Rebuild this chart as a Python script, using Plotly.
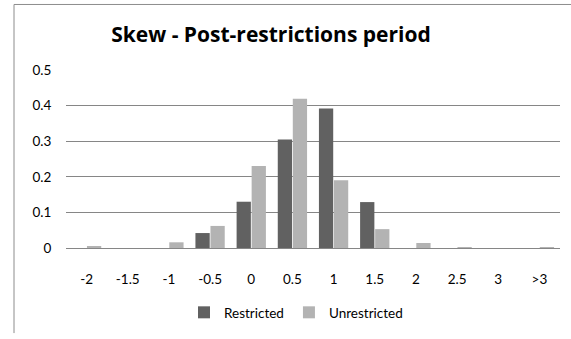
import plotly.graph_objects as go

categories = ["-2", "-1.5", "-1", "-0.5", "0", "0.5", "1", "1.5", "2", "2.5", "3", ">3"]
restricted = [0, 0, 0, 0.042, 0.13, 0.305, 0.392, 0.129, 0, 0, 0, 0]
unrestricted = [0.004, 0, 0.016, 0.062, 0.23, 0.419, 0.19, 0.053, 0.014, 0.001, 0, 0.001]

FONT = "Lato, Carlito, 'Liberation Sans', sans-serif"
TFONT = "'Open Sans', Lato, sans-serif"

fig = go.Figure()
fig.add_trace(go.Bar(x=categories, y=restricted, name="Restricted",
                     marker=dict(color="#616161", line=dict(width=0))))
fig.add_trace(go.Bar(x=categories, y=unrestricted, name="Unrestricted",
                     marker=dict(color="#b3b3b3", line=dict(width=0))))

W, H = 571, 339
ml, mr, mt, mb = 66, 11, 70, 87
pw, ph = W - ml - mr, H - mt - mb

def px(x):
    return (x - ml) / pw

def py(y):
    return (H - mb - y) / ph

fig.update_layout(
    width=W, height=H,
    margin=dict(l=ml, r=mr, t=mt, b=mb, pad=0),
    paper_bgcolor="white", plot_bgcolor="white",
    font=dict(family=FONT, size=13.5, color="#000000"),
    title=dict(text="<b>Skew - Post-restrictions period</b>", xref="container", x=271 / W,
               xanchor="center", yref="container", y=1 - 35 / H, yanchor="middle",
               font=dict(family=TFONT, size=21, color="#000000")),
    barmode="group", bargap=0.27, bargroupgap=0.05,
    showlegend=True,
    legend=dict(orientation="h", x=px(296), xanchor="center", y=py(318), yanchor="middle",
                font=dict(family=FONT, size=13.5), itemwidth=30, traceorder="normal"),
    xaxis=dict(type="category", showgrid=False, showline=True, linecolor="#868686",
               linewidth=1, ticks="outside", ticklen=19, tickcolor="rgba(0,0,0,0)",
               tickfont=dict(family=FONT, size=13.5), fixedrange=True),
    yaxis=dict(range=[0, 0.5], tickvals=[0, 0.1, 0.2, 0.3, 0.4, 0.5],
               ticktext=["0", "0.1", "0.2", "0.3", "0.4", "0.5"],
               showgrid=True, gridcolor="#868686", gridwidth=1, zeroline=False,
               showline=False, ticks="outside", ticklen=11, tickcolor="rgba(0,0,0,0)",
               tickfont=dict(family=FONT, size=13.5), fixedrange=True),
    shapes=[
        dict(type="line", xref="paper", yref="paper", x0=px(14), x1=px(14), y0=py(3), y1=py(339),
             line=dict(color="#8c8c8c", width=1)),
        dict(type="line", xref="paper", yref="paper", x0=px(14), x1=px(571), y0=py(3), y1=py(3),
             line=dict(color="#8c8c8c", width=1)),
    ],
)

fig.write_html("out.html", config={"displayModeBar": False},
               post_script="document.body.style.margin='0px';")
